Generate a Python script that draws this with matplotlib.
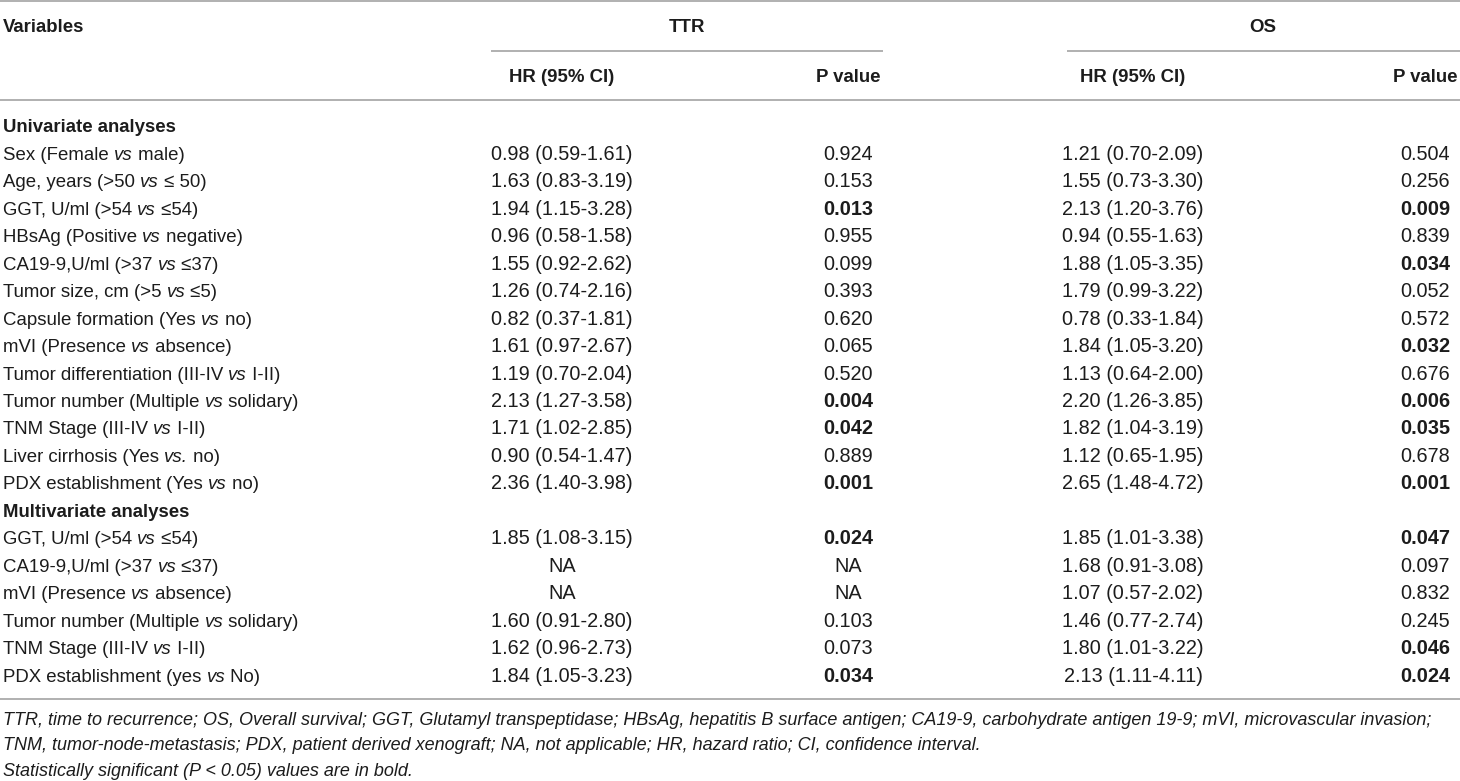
import matplotlib
matplotlib.use("Agg")
import matplotlib.pyplot as plt

plt.rcParams['font.family'] = ['Liberation Sans', 'DejaVu Sans']

# table content
uni_vars = [
    ("Sex (Female ", "vs", " male)"),
    ("Age, years (>50 ", "vs", " \u2264 50)"),
    ("GGT, U/ml (>54 ", "vs", " \u226454)"),
    ("HBsAg (Positive ", "vs", " negative)"),
    ("CA19-9,U/ml (>37 ", "vs", " \u226437)"),
    ("Tumor size, cm (>5 ", "vs", " \u22645)"),
    ("Capsule formation (Yes ", "vs", " no)"),
    ("mVI (Presence ", "vs", " absence)"),
    ("Tumor differentiation (III-IV ", "vs", " I-II)"),
    ("Tumor number (Multiple ", "vs", " solidary)"),
    ("TNM Stage (III-IV ", "vs", " I-II)"),
    ("Liver cirrhosis (Yes ", "vs.", " no)"),
    ("PDX establishment (Yes ", "vs", " no)"),
]
uni_ttr_hr = ["0.98 (0.59-1.61)", "1.63 (0.83-3.19)", "1.94 (1.15-3.28)", "0.96 (0.58-1.58)",
              "1.55 (0.92-2.62)", "1.26 (0.74-2.16)", "0.82 (0.37-1.81)", "1.61 (0.97-2.67)",
              "1.19 (0.70-2.04)", "2.13 (1.27-3.58)", "1.71 (1.02-2.85)", "0.90 (0.54-1.47)",
              "2.36 (1.40-3.98)"]
uni_ttr_p = ["0.924", "0.153", "0.013", "0.955", "0.099", "0.393", "0.620", "0.065",
             "0.520", "0.004", "0.042", "0.889", "0.001"]
uni_os_hr = ["1.21 (0.70-2.09)", "1.55 (0.73-3.30)", "2.13 (1.20-3.76)", "0.94 (0.55-1.63)",
             "1.88 (1.05-3.35)", "1.79 (0.99-3.22)", "0.78 (0.33-1.84)", "1.84 (1.05-3.20)",
             "1.13 (0.64-2.00)", "2.20 (1.26-3.85)", "1.82 (1.04-3.19)", "1.12 (0.65-1.95)",
             "2.65 (1.48-4.72)"]
uni_os_p = ["0.504", "0.256", "0.009", "0.839", "0.034", "0.052", "0.572", "0.032",
            "0.676", "0.006", "0.035", "0.678", "0.001"]

multi_vars = [
    ("GGT, U/ml (>54 ", "vs", " \u226454)"),
    ("CA19-9,U/ml (>37 ", "vs", " \u226437)"),
    ("mVI (Presence ", "vs", " absence)"),
    ("Tumor number (Multiple ", "vs", " solidary)"),
    ("TNM Stage (III-IV ", "vs", " I-II)"),
    ("PDX establishment (yes ", "vs", " No)"),
]
multi_ttr_hr = ["1.85 (1.08-3.15)", "NA", "NA", "1.60 (0.91-2.80)", "1.62 (0.96-2.73)",
                "1.84 (1.05-3.23)"]
multi_ttr_p = ["0.024", "NA", "NA", "0.103", "0.073", "0.034"]
multi_os_hr = ["1.85 (1.01-3.38)", "1.68 (0.91-3.08)", "1.07 (0.57-2.02)", "1.46 (0.77-2.74)",
               "1.80 (1.01-3.22)", "2.13 (1.11-4.11)"]
multi_os_p = ["0.047", "0.097", "0.832", "0.245", "0.046", "0.024"]

footnotes = [
    "TTR, time to recurrence; OS, Overall survival; GGT, Glutamyl transpeptidase; HBsAg, "
    "hepatitis B surface antigen; CA19-9, carbohydrate antigen 19-9; mVI, microvascular invasion;",
    "TNM, tumor-node-metastasis; PDX, patient derived xenograft; NA, not applicable; "
    "HR, hazard ratio; CI, confidence interval.",
    "Statistically significant (P < 0.05) values are in bold.",
]

W, H = 1460, 781
fig = plt.figure(figsize=(W / 100, H / 100), dpi=100)
ax = fig.add_axes([0, 0, 1, 1])
ax.set_xlim(0, W)
ax.set_ylim(H, 0)
ax.axis('off')
renderer = fig.canvas.get_renderer()

FS = 13.4        # labels / headers
FS_NUM = 14.3    # numeric cells
FS_NOTE = 12.95  # footnotes
TXT = '#1c1c1c'
RULE = '#a3a3a3'
col_x = [562, 848, 1133, 1425]   # HR / P centres for TTR and OS
BASE = 6.5                       # centre -> baseline


def width_of(s, **kw):
    t = ax.text(0, 0, s + "x", fontsize=FS, **kw)
    t2 = ax.text(0, 0, "x", fontsize=FS, **kw)
    w = t.get_window_extent(renderer).width - t2.get_window_extent(renderer).width
    t.remove()
    t2.remove()
    return w


def rich(x, y, parts):
    styles = ['normal', 'italic', 'normal']
    for s, st in zip(parts, styles):
        ax.text(x, y + BASE, s, fontsize=FS, style=st, color=TXT, va='baseline', ha='left')
        x += width_of(s, style=st)


def cell(x, y, s, bold=False):
    ax.text(x, y + BASE, s, fontsize=FS_NUM, color=TXT, va='baseline', ha='center',
            fontweight='bold' if bold else 'normal')


def is_sig(p):
    try:
        return float(p) < 0.05
    except ValueError:
        return False


# rules
ax.hlines([1, 100], 0, W, color=RULE, lw=1.2)
ax.hlines(50.5, 491, 883, color=RULE, lw=1.2)
ax.hlines(50.5, 1067, W, color=RULE, lw=1.2)
ax.hlines(698.5, 0, W, color=RULE, lw=1.2)

# headers
ax.text(3, 25 + BASE, "Variables", fontsize=FS, fontweight='bold', color=TXT, va='baseline')
ax.text(687, 25 + BASE, "TTR", fontsize=FS, fontweight='bold', color=TXT, va='baseline', ha='center')
ax.text(1263, 25 + BASE, "OS", fontsize=FS, fontweight='bold', color=TXT, va='baseline', ha='center')
for x, s in zip(col_x, ["HR (95% CI)", "P value", "HR (95% CI)", "P value"]):
    ax.text(x, 76 + BASE, s, fontsize=FS, fontweight='bold', color=TXT, va='baseline', ha='center')

# body
y0, dy = 126, 27.45
ax.text(3, y0 + BASE, "Univariate analyses", fontsize=FS, fontweight='bold', color=TXT, va='baseline')
for i, parts in enumerate(uni_vars):
    y = y0 + dy * (i + 1)
    rich(3, y, parts)
    cell(col_x[0], y, uni_ttr_hr[i])
    cell(col_x[1], y, uni_ttr_p[i], is_sig(uni_ttr_p[i]))
    cell(col_x[2], y, uni_os_hr[i])
    cell(col_x[3], y, uni_os_p[i], is_sig(uni_os_p[i]))

k = len(uni_vars) + 1
ax.text(3, y0 + dy * k + BASE, "Multivariate analyses", fontsize=FS, fontweight='bold',
        color=TXT, va='baseline')
for i, parts in enumerate(multi_vars):
    y = y0 + dy * (k + i + 1)
    rich(3, y, parts)
    cell(col_x[0], y, multi_ttr_hr[i])
    cell(col_x[1], y, multi_ttr_p[i], is_sig(multi_ttr_p[i]))
    cell(col_x[2], y, multi_os_hr[i])
    cell(col_x[3], y, multi_os_p[i], is_sig(multi_os_p[i]))

# footnotes
for j, s in enumerate(footnotes):
    ax.text(3, 719 + 25.5 * j + 6, s, fontsize=FS_NOTE, style='italic', color=TXT, va='baseline')

fig.savefig("out.png", dpi=100)
